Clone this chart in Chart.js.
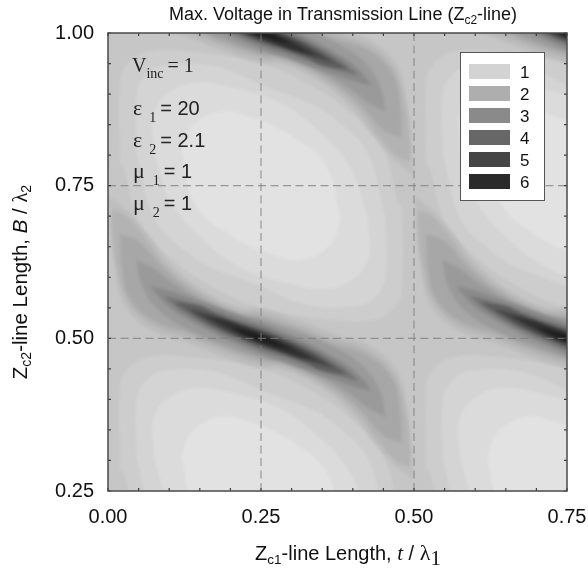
<!DOCTYPE html>
<html>
<head>
<meta charset="utf-8">
<style>
  html, body { margin: 0; padding: 0; background: #fff; }
  canvas { display: block; filter: blur(0.4px); }
</style>
<script src="https://cdn.jsdelivr.net/npm/chart.js@4/dist/chart.umd.min.js"></script>
</head>
<body>
<canvas id="contourChart" width="588" height="577"></canvas>
<script>
const xMajorTicks = [0, 0.25, 0.5, 0.75];
const yMajorTicks = [0.25, 0.5, 0.75, 1];
const xGuides = [0.25, 0.5];
const yGuides = [0.5, 0.75];

const legendLabels = ["1", "2", "3", "4", "5", "6"];
const legendGrays = ["#d3d3d3", "#aeaeae", "#8a8a8a", "#676767", "#454545", "#2a2a2a"];

const baseGray = "#c6c6c6";

// contours, in (t/lambda1, B/lambda2)
// only half of each outline is kept, the other half is the same turned round the centre
const blobCenter = [0.25, 0.75];
const blobGrays = ["#cdcdcd", "#d4d4d4", "#dbdbdb", "#e2e2e2"];
const blobHalves = [
  [[.020,.783],[.020,.922],[.034,.952],[.066,.970],[.148,.968],[.250,.950],[.332,.914],[.398,.868],[.447,.816],[.475,.717]],
  [[.047,.802],[.047,.901],[.065,.934],[.094,.947],[.176,.945],[.258,.912],[.340,.880],[.378,.853],[.424,.804],[.453,.698]],
  [[.075,.804],[.075,.870],[.104,.906],[.148,.919],[.202,.911],[.284,.884],[.348,.835],[.398,.776],[.425,.696]],
  [[.120,.804],[.135,.845],[.181,.871],[.225,.865],[.291,.837],[.357,.781],[.380,.696]]
];

const ridgeCenter = [0.25, 0.5];
const ridgeGrays = ["#bdbdbd", "#b3b3b3", "#a7a7a7", "#9a9a9a", "#8a8a8a", "#767676", "#5e5e5e", "#464646", "#303030", "#1e1e1e"];
const ridgeHalves = [
  [[.001,.733],[.032,.708],[.065,.671],[.104,.621],[.158,.577],[.216,.551],[.250,.549],[.312,.530],[.370,.507],[.430,.487],[.473,.446],[.489,.384],[.496,.320],[.499,.262]],
  [[.007,.710],[.030,.700],[.059,.667],[.097,.618],[.153,.574],[.214,.546],[.250,.542],[.311,.522],[.366,.500],[.427,.479],[.468,.439],[.486,.380],[.494,.316],[.493,.290]],
  [[.020,.671],[.050,.659],[.091,.614],[.148,.571],[.211,.542],[.250,.535],[.309,.516],[.363,.493],[.424,.472],[.465,.433],[.478,.377],[.480,.329]],
  [[.047,.628],[.073,.615],[.102,.593],[.145,.567],[.211,.539],[.250,.531],[.307,.511],[.362,.489],[.414,.457],[.444,.415],[.453,.375]],
  [[.070,.585],[.094,.580],[.122,.571],[.178,.551],[.214,.538],[.250,.526],[.286,.511],[.322,.495],[.378,.464],[.406,.444],[.430,.416]],
  [[.093,.569],[.122,.562],[.178,.544],[.214,.531],[.250,.520],[.286,.505],[.322,.489],[.378,.457],[.407,.433]],
  [[.111,.559],[.152,.552],[.178,.539],[.214,.526],[.250,.515],[.286,.500],[.322,.484],[.348,.470],[.389,.443]],
  [[.132,.548],[.178,.536],[.214,.523],[.250,.511],[.286,.497],[.322,.480],[.368,.452]],
  [[.160,.536],[.201,.526],[.250,.508],[.286,.493],[.340,.464]],
  [[.201,.518],[.230,.511],[.250,.505],[.270,.497],[.299,.482]]
];

// the pattern repeats every 0.5 along both axes
const blobShifts = [[0, 0], [0.5, 0], [0, -0.5], [0.5, -0.5]];
const ridgeShifts = [
  [-0.5, -0.5], [0, -0.5], [0.5, -0.5],
  [-0.5, 0], [0, 0], [0.5, 0],
  [-0.5, 0.5], [0, 0.5], [0.5, 0.5]
];

function outline(half, center) {
  const other = half.map(p => [2 * center[0] - p[0], 2 * center[1] - p[1]]);
  return half.concat(other);
}

function bandDataset(points, shift, color) {
  return {
    data: points.map(p => ({ x: p[0] + shift[0], y: p[1] + shift[1] })),
    showLine: true,
    fill: "shape",
    backgroundColor: color,
    borderWidth: 0,
    borderColor: color,
    pointRadius: 0,
    tension: 0.4
  };
}

const painted = [];
blobHalves.forEach((half, i) => {
  blobShifts.forEach(s => painted.push(bandDataset(outline(half, blobCenter), s, blobGrays[i])));
});
ridgeHalves.forEach((half, i) => {
  ridgeShifts.forEach(s => painted.push(bandDataset(outline(half, ridgeCenter), s, ridgeGrays[i])));
});

const SANS = '"Liberation Sans", Arial, sans-serif';
const SERIF = '"Liberation Serif", "Times New Roman", serif';

// text made of several runs, for the subscripts and italics
function drawRuns(ctx, x, y, runs, align) {
  let width = 0;
  runs.forEach(r => {
    ctx.font = r.font;
    width += ctx.measureText(r.text).width + (r.gap || 0);
  });
  let cx = align === "center" ? x - width / 2 : x;
  ctx.textAlign = "left";
  ctx.textBaseline = "alphabetic";
  runs.forEach(r => {
    ctx.font = r.font;
    ctx.fillText(r.text, cx, y + (r.dy || 0));
    cx += ctx.measureText(r.text).width + (r.gap || 0);
  });
}

const plotBack = {
  id: "plotBack",
  beforeDatasetsDraw(chart) {
    const { ctx, chartArea: a } = chart;
    ctx.fillStyle = baseGray;
    ctx.fillRect(a.left, a.top, a.right - a.left, a.bottom - a.top);
    // soften the band edges, the source picture is a blurred scan
    ctx.filter = "blur(1.6px)";
  },
  afterDatasetsDraw(chart) {
    chart.ctx.filter = "none";
  }
};

const frameAndText = {
  id: "frameAndText",
  afterDraw(chart) {
    const { ctx, chartArea: a, scales } = chart;
    ctx.save();

    // guides
    ctx.strokeStyle = "rgba(125,125,125,0.75)";
    ctx.lineWidth = 1.2;
    ctx.setLineDash([8, 4.5]);
    xGuides.forEach(v => {
      const px = scales.x.getPixelForValue(v);
      ctx.beginPath(); ctx.moveTo(px, a.top); ctx.lineTo(px, a.bottom); ctx.stroke();
    });
    yGuides.forEach(v => {
      const py = scales.y.getPixelForValue(v);
      ctx.beginPath(); ctx.moveTo(a.left, py); ctx.lineTo(a.right, py); ctx.stroke();
    });
    ctx.setLineDash([]);

    // inward ticks on all four sides
    ctx.strokeStyle = "#3c3c3c";
    ctx.lineWidth = 1.2;
    scales.x.ticks.forEach(t => {
      const px = scales.x.getPixelForValue(t.value);
      ctx.beginPath();
      ctx.moveTo(px, a.bottom); ctx.lineTo(px, a.bottom - 3);
      ctx.moveTo(px, a.top); ctx.lineTo(px, a.top + 3);
      ctx.stroke();
    });
    scales.y.ticks.forEach(t => {
      const py = scales.y.getPixelForValue(t.value);
      ctx.beginPath();
      ctx.moveTo(a.left, py); ctx.lineTo(a.left + 3, py);
      ctx.moveTo(a.right, py); ctx.lineTo(a.right - 3, py);
      ctx.stroke();
    });

    ctx.strokeStyle = "#4a4a4a";
    ctx.lineWidth = 1.5;
    ctx.strokeRect(a.left, a.top, a.right - a.left, a.bottom - a.top);

    // legend box
    ctx.fillStyle = "#ffffff";
    ctx.fillRect(460, 52, 85, 149);
    ctx.strokeStyle = "#555555";
    ctx.lineWidth = 1;
    ctx.strokeRect(460.5, 52.5, 84, 148);
    legendLabels.forEach((label, i) => {
      const top = 64 + i * 22;
      ctx.fillStyle = legendGrays[i];
      ctx.fillRect(469, top, 41, 15);
      ctx.fillStyle = "#111";
      ctx.font = "17px " + SANS;
      ctx.textAlign = "left";
      ctx.textBaseline = "alphabetic";
      ctx.fillText(label, 520, top + 14);
    });

    // parameters
    ctx.fillStyle = "#222";
    const big = "20px " + SERIF, small = "14px " + SERIF, greek = "22px " + SERIF, sans = "20px " + SANS;
    drawRuns(ctx, 132, 72, [
      { text: "V", font: big },
      { text: "inc", font: small, dy: 6, gap: 4 },
      { text: "= 1", font: big }
    ]);
    const params = [
      ["\u03B5", "1", "= 20", 115, 7],
      ["\u03B5", "2", "= 2.1", 147, 7],
      ["\u03BC", "1", "= 1", 178, 8],
      ["\u03BC", "2", "= 1", 210, 8]
    ];
    params.forEach(p => {
      drawRuns(ctx, 133, p[3], [
        { text: p[0], font: greek, gap: p[4] },
        { text: p[1], font: small, dy: 7, gap: 4 },
        { text: p[2], font: sans }
      ]);
    });

    // title and axis names
    ctx.fillStyle = "#111";
    drawRuns(ctx, 343, 20, [
      { text: "Max. Voltage in Transmission Line (Z", font: "18px " + SANS },
      { text: "c2", font: "12px " + SANS, dy: 4 },
      { text: "-line)", font: "18px " + SANS }
    ], "center");

    drawRuns(ctx, 348, 560, [
      { text: "Z", font: "20px " + SANS },
      { text: "c1", font: "13.5px " + SANS, dy: 4 },
      { text: "-line Length, ", font: "20px " + SANS },
      { text: "t", font: "italic 21px " + SERIF },
      { text: " / ", font: "20px " + SANS },
      { text: "\u03BB", font: "22px " + SERIF },
      { text: "1", font: "21px " + SERIF, dy: 5 }
    ], "center");

    ctx.translate(27, 282);
    ctx.rotate(-Math.PI / 2);
    drawRuns(ctx, 0, 0, [
      { text: "Z", font: "20.5px " + SANS },
      { text: "c2", font: "14px " + SANS, dy: 4 },
      { text: "-line Length, ", font: "20.5px " + SANS },
      { text: "B", font: "italic 20.5px " + SANS },
      { text: " / ", font: "20.5px " + SANS },
      { text: "\u03BB", font: "20.5px " + SERIF },
      { text: "2", font: "14px " + SANS, dy: 4 }
    ], "center");

    ctx.restore();
  }
};

function majorLabel(majors) {
  return v => {
    const hit = majors.find(m => Math.abs(m - v) < 1e-6);
    return hit === undefined ? "" : hit.toFixed(2);
  };
}

new Chart(document.getElementById("contourChart"), {
  type: "scatter",
  data: { datasets: painted.slice().reverse() },
  plugins: [plotBack, frameAndText],
  options: {
    responsive: false,
    animation: false,
    layout: { padding: { left: 0, right: 21, top: 33, bottom: 0 } },
    plugins: { legend: { display: false }, tooltip: { enabled: false }, title: { display: false } },
    scales: {
      x: {
        type: "linear",
        min: 0,
        max: 0.75,
        afterFit(scale) { scale.height = 86; scale.paddingRight = 0; scale.paddingLeft = 0; },
        grid: { display: false },
        border: { display: false },
        ticks: {
          stepSize: 0.05,
          autoSkip: false,
          maxRotation: 0,
          padding: 6,
          color: "#111",
          font: { family: "Liberation Sans", size: 20 },
          callback: majorLabel(xMajorTicks)
        }
      },
      y: {
        type: "linear",
        min: 0.25,
        max: 1,
        afterFit(scale) { scale.width = 108; scale.paddingTop = 0; scale.paddingBottom = 0; },
        grid: { display: false },
        border: { display: false },
        ticks: {
          stepSize: 0.05,
          autoSkip: false,
          padding: 6,
          color: "#111",
          font: { family: "Liberation Sans", size: 20 },
          callback: majorLabel(yMajorTicks)
        }
      }
    }
  }
});
</script>
</body>
</html>
